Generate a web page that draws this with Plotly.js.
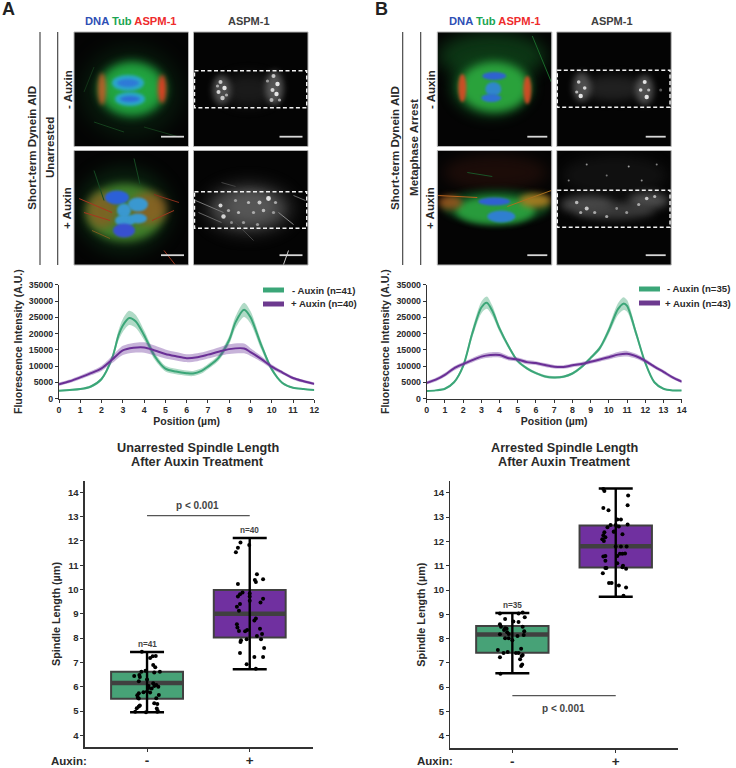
<!DOCTYPE html>
<html><head><meta charset="utf-8">
<script src="https://cdn.plot.ly/plotly-3.0.1.min.js"></script>
<style>html,body{margin:0;padding:0;background:#fff}#g{width:736px;height:768px}</style></head>
<body><div id="g"></div>
<script>
// ---------- line-profile data ----------
const posMinusA=[0,1,1.5,2,2.5,2.8,3,3.3,3.6,4,4.5,5,5.5,6,6.3,6.7,7,7.5,8,8.3,8.7,9,9.5,10,10.5,11,11.5,12];
const meanMinusA=[2400,2900,3700,6000,12500,19500,22500,24800,23800,19500,13000,9200,8300,7800,7700,8500,9800,12500,18000,23500,27300,25000,16500,9000,4800,3300,2900,2600];
const bandMinusA=[250,300,400,500,900,1600,2000,2200,2000,1500,1100,900,850,800,800,800,800,900,1300,1800,2200,1900,1300,700,350,250,200,200];
const posPlusA=[0,.5,1,1.5,2,2.5,3,3.5,4,4.5,5,5.5,6,6.5,7,7.5,8,8.7,9,9.5,10,10.5,11,11.5,12];
const meanPlusA=[4400,5300,6500,7800,9300,12000,14800,15600,15700,14800,13700,13000,12400,12700,13500,14400,15200,15400,14300,12200,9800,8000,6300,5300,4500];
const bandPlusA=[500,550,600,650,800,1100,1400,1500,1600,1500,1400,1300,1200,1200,1200,1300,1500,1500,1200,900,700,550,500,450,400];
const posMinusB=[0,.5,1,1.5,2,2.5,3,3.3,3.6,4,4.5,5,5.5,6,6.5,7,7.5,8,8.5,9,9.5,10,10.5,10.8,11,11.5,12,12.5,13,13.5,14];
const meanMinusB=[2300,2500,3000,5000,10000,20000,28000,29500,27000,21500,16000,11500,9300,7800,6800,6500,6700,7700,9700,12500,15500,21000,27500,29200,28500,20000,11000,5000,3000,2500,2500];
const bandMinusB=[200,200,300,400,700,1300,1800,1900,1600,1000,700,500,450,400,400,400,400,400,450,500,700,1200,1800,2000,1800,1100,600,350,250,200,200];
const posPlusB=[0,.5,1,1.5,2,2.5,3,3.5,4,4.5,5,5.5,6,6.5,7,7.5,8,8.5,9,9.5,10,10.5,11,11.5,12,12.5,13,13.5,14];
const meanPlusB=[4800,5800,7300,9300,10600,11800,12900,13400,13400,12400,12000,11200,10900,10300,9800,9700,10200,10600,11300,12000,12700,13500,13800,13000,11600,9800,8200,6500,5200];
const bandPlusB=[500,550,600,650,650,700,750,800,800,700,650,650,600,600,550,550,550,600,600,650,700,800,850,750,650,600,550,500,500];

// ---------- box statistics: [q1, median, q3, min, max] ----------
const boxMinusA=[5.5,6.15,6.62,4.95,7.43];
const boxPlusA=[8.02,9.0,9.98,6.72,12.12];
const boxMinusB=[7.42,8.17,8.52,6.57,9.05];
const boxPlusB=[10.93,11.8,12.66,9.72,14.18];

// ---------- jittered observations ----------
const jitMinusAx=[-.05,.03,.055,.085,.06,.08,-.015,.07,.125,-.055,-.075,-.125,-.07,0,-.08,.06,.09,.11,.07,.015,0,-.08,-.095,-.035,.03,-.09,-.08,.09,.115,.07,.10,-.07,-.08,-.10,.095,.105,-.115,-.01,.10,.045,.015];
const jitMinusAy=[7.44,7.18,7.25,7.26,6.89,6.80,6.66,6.58,6.61,6.61,6.48,6.44,6.40,6.30,6.22,6.14,6.07,6.0,6.03,5.95,5.80,5.73,5.65,5.77,5.76,5.55,5.51,5.52,5.66,5.32,5.29,5.23,5.18,5.11,5.10,5.0,4.97,4.95,4.97,5.93,6.03];
const jitPlusAx=[-.09,-.115,-.135,-.005,.07,.05,.06,.13,-.115,-.07,-.095,-.115,0,0,.13,.105,-.095,-.125,-.105,.06,.045,-.125,-.12,-.105,-.045,-.025,.10,.12,.07,.11,-.03,-.085,-.09,.14,-.095,.045,.13,-.03,.06,0];
const jitPlusAy=[11.93,11.72,11.53,11.83,10.63,10.39,10.31,10.42,10.23,9.88,9.80,9.71,9.71,9.54,9.62,9.46,9.40,9.29,9.13,8.81,8.72,8.57,8.44,8.29,8.28,8.33,8.38,8.17,8.09,7.95,7.95,7.91,7.84,7.59,7.39,7.22,7.22,6.92,6.74,9.84];
const jitMinusBx=[-.12,.06,.10,.12,-.07,.01,.06,-.12,-.11,-.07,-.055,.10,.115,-.12,-.05,-.035,.11,.05,-.07,-.035,0,.085,-.14,-.085,-.045,.035,.06,.10,.09,-.12,.075,.095,.085,-.115,-.08];
const jitMinusBy=[9.03,9.03,9.07,8.88,8.81,8.70,8.68,8.59,8.49,8.42,8.40,8.49,8.30,8.18,8.26,8.19,8.15,8.11,8.01,8.01,7.93,7.58,7.53,7.41,7.45,7.41,7.41,7.32,7.28,7.23,7.15,6.93,6.87,6.55,8.35];
const jitPlusBx=[-.12,-.11,.12,.115,-.12,-.07,.015,.05,-.05,-.08,0,.115,-.11,-.015,.065,-.13,-.10,-.12,.05,.105,0,-.12,-.10,-.10,.015,.065,.09,.015,.065,.10,-.09,-.10,-.125,-.065,-.04,.03,.10,.075,.07,.04,-.115,.03,-.02];
const jitPlusBy=[14.16,14.08,13.89,13.49,13.38,13.29,12.90,12.90,12.68,12.59,12.68,12.70,12.38,12.41,12.30,12.09,12.17,12.26,11.79,11.79,11.79,11.38,11.40,11.21,11.40,11.49,11.50,11.10,10.94,10.88,10.91,10.91,10.69,10.29,10.29,10.19,10.10,9.76,11.0,11.49,12.02,12.62,12.4];

// ---------- text ----------
const sideLabels=["Short-term Dynein AID","Unarrested","Metaphase Arrest","- Auxin","+ Auxin"];
const legendA=["- Auxin (n=41)","+ Auxin (n=40)"], legendB=["- Auxin (n=35)","+ Auxin (n=43)"];
const GREEN='#3ba678', PURPLE='#6d3a8f', BOXG='#47a277', BOXP='#7030a0', EDGE='#404040', INK='#2a2a2a';
const FONT='"Liberation Sans", Arial, sans-serif';
const W=736,H=768, px=x=>x/W, py=y=>1-y/H;
const BOLD=s=>'<b>'+s+'</b>';

let shapes=[],ann=[],traces=[],blurMap={};
const text=(x,y,t,size,color,extra)=>ann.push(Object.assign({xref:'paper',yref:'paper',x:px(x),y:py(y),text:t,showarrow:false,xanchor:'center',yanchor:'middle',font:{family:FONT,size:size,color:color||INK}},extra||{}));
const rect=(x0,y0,x1,y1,fill,line)=>shapes.push({type:'rect',xref:'paper',yref:'paper',x0:px(x0),x1:px(x1),y0:py(y0),y1:py(y1),fillcolor:fill,line:line||{width:0}});
const seg=(x0,y0,x1,y1,color,w,dash)=>shapes.push({type:'line',xref:'paper',yref:'paper',x0:px(x0),x1:px(x1),y0:py(y0),y1:py(y1),line:{color:color,width:w,dash:dash||'solid'}});
function blob(ox,oy,b){const [cx,cy,rx,ry,c,op,bl]=b;
  blurMap[shapes.length]=bl!==undefined?bl:Math.min(rx,ry)*.3;
  shapes.push({type:'circle',xref:'paper',yref:'paper',x0:px(ox+cx-rx),x1:px(ox+cx+rx),y0:py(oy+cy-ry),y1:py(oy+cy+ry),fillcolor:c,opacity:op,line:{width:0}});}
// speckle: [x, y, r, grey]
const dots=(arr)=>arr.map(d=>[d[0],d[1],d[2],d[2],d[3],.85,.7]);

// ---------- micrograph panels (illustrative only, not chart data) ----------
const panelSize=114.5;
const panels=[
 {o:[74,32],bar:[87,110],blobs:[[57,60,50,46,'#0c3316',.45,10],[58,57,34,28,'#1f9a3a',.95,5],[58,57,26,21,'#28b84a',.5,5],[28,57,4,16,'#d85a28',.8,2],[88,57,4,14,'#ee3a22',.9,2],[54,51,16,8,'#2aa6c8',1,1.5],[56,67,15,7,'#2aa6c8',1,1.5],[54,51,11,4,'#2f6fdc',.8,1.5],[56,67,10,3,'#2f5fdc',.8,1.5]],fib:[[20,90,50,100,'#143f1c'],[70,95,105,105,'#143a1a'],[10,60,20,35,'#123418']]},
 {o:[193.5,32],bar:[86,109],blobs:[[55,58,28,16,'#242424',.7,6],[28,58,9,15,'#7a7a7a',.6,3],[81,56,9,17,'#848484',.6,3]].concat(dots([[27,50,2,'#ddd'],[31,56,2.2,'#fff'],[25,60,2,'#eee'],[29,66,2.2,'#ddd'],[33,63,1.6,'#bbb'],[24,54,1.6,'#bbb'],[80,44,2,'#ddd'],[84,52,2.2,'#fff'],[79,58,2,'#eee'],[83,62,2.2,'#fff'],[78,68,2,'#ccc'],[74,49,1.6,'#aaa'],[86,68,1.6,'#bbb']])),box:[1,38.7,113.2,75.7],fib:[]},
 {o:[74,150.5],bar:[87,110],blobs:[[50,60,48,44,'#0d3316',.55,8],[51,62,39,29,'#4a9030',.85,4],[28,60,15,18,'#a8501f',.55,4],[75,58,18,16,'#b0521f',.6,4],[43,47,12,7,'#2c60d8',1,1],[64,54,10,7,'#3a98d0',1,1],[50,60,7,7,'#3a98d0',1,1],[51,70,10,6,'#3a98d0',1,1],[64,68,9,5,'#3a98d0',1,1],[50,80,11,7,'#3850d0',1,1]],
  fib:[[5,48,38,62,'#a8361f'],[10,62,36,70,'#a8361f'],[80,44,105,52,'#8a2f1c'],[78,70,100,60,'#a0381f'],[20,20,30,50,'#164a22'],[60,8,66,34,'#164a22'],[90,100,101,114,'#a0381f'],[18,80,36,88,'#7a5a1f']]},
 {o:[193.5,150.5],bar:[86,109],blobs:[[55,58,46,28,'#2e2e2e',.75,7],[55,58,36,20,'#5c5c5c',.6,5],[58,56,22,14,'#6e6e6e',.4,4]].concat(dots([[27,55,2,'#eee'],[30,66,2.2,'#eee'],[35,60,1.6,'#bbb'],[75,48,2.4,'#fff'],[66,52,2,'#ddd'],[45,62,1.6,'#ccc'],[55,52,1.6,'#ccc'],[60,62,1.6,'#bbb'],[70,60,1.8,'#ccc'],[82,52,1.6,'#bbb'],[42,50,1.6,'#aaa'],[50,72,1.6,'#aaa'],[64,74,1.6,'#aaa'],[80,62,1.6,'#aaa'],[38,72,1.5,'#999']])),box:[1,41.2,113.2,77.8],
  fib:[[2,50,30,62,'#777'],[5,62,28,72,'#666'],[85,62,100,74,'#888'],[95,100,90,114,'#ccc'],[28,32,42,36,'#444'],[100,45,112,50,'#666'],[40,70,60,90,'#444']]},
 {o:[437.3,32],bar:[90,110],blobs:[[55,24,54,24,'#11501e',.65,8],[54,55,42,31,'#0f4a1c',.65,6],[57,55,35,25,'#2ca83e',.95,4],[25,56,4,14,'#dc4a25',.9,1.8],[90,58,4,14,'#dc4a25',.9,1.8],[57,44,12,4,'#2f62cf',1,1],[56,57,8,7,'#2f86cb',1,1],[54,66,10,4,'#2f6fd2',1,1]],fib:[[95,4,114,50,'#1a6a2a']]},
 {o:[556.7,32],bar:[89,109],blobs:[[56,56,32,13,'#2c2c2c',.7,5],[25,55,9,15,'#787878',.6,3],[88,58,9,15,'#7c7c7c',.6,3]].concat(dots([[22,50,1.8,'#ddd'],[24,64,2.2,'#fff'],[28,56,1.8,'#eee'],[20,60,1.6,'#ccc'],[88,50,2,'#fff'],[90,65,2.2,'#fff'],[84,58,1.8,'#eee'],[92,58,1.6,'#ccc'],[104,58,1.5,'#666']])),box:[.6,38.3,113.3,75.3],fib:[]},
 {o:[437.3,150.5],bar:[90,110],blobs:[[58,22,52,18,'#2c120c',.6,7],[59,56,54,17,'#0f4a1e',.85,3],[58,60,40,14,'#2aa03e',.95,3],[98,50,16,7,'#b88422',.85,3],[13,52,12,7,'#b05c20',.75,3],[57,51,16,4,'#2f60d2',1,1],[64,66,14,6,'#2f7fd0',1,1]],fib:[[0,45,40,47,'#b8641f'],[70,56,114,40,'#a8701f'],[30,22,55,26,'#1a5528']]},
 {o:[556.7,150.5],bar:[89,109],blobs:[[58,25,52,20,'#141414',.8,6],[30,54,26,9,'#5e5e5e',.75,4],[92,50,20,8,'#666',.75,4],[58,60,40,9,'#454545',.8,4]].concat(dots([[20,52,1.8,'#ccc'],[30,58,2,'#ddd'],[24,62,1.6,'#bbb'],[38,62,1.6,'#bbb'],[90,48,1.8,'#ddd'],[98,46,1.6,'#ccc'],[82,54,1.6,'#bbb'],[70,62,1.5,'#aaa'],[50,66,1.6,'#bbb'],[60,58,1.4,'#999'],[30,14,1,'#aaa'],[72,16,1,'#bbb'],[85,30,1,'#aaa'],[12,30,1,'#999'],[50,25,1,'#888'],[100,14,1,'#999']])),box:[.6,39.8,113.3,76.8],fib:[]}
];
panels.forEach(p=>{const [ox,oy]=p.o;
  rect(ox,oy,ox+panelSize,oy+panelSize,'#040404');
  p.blobs.forEach(b=>blob(ox,oy,b));
  p.fib.forEach(f=>{blurMap[shapes.length]=.6;seg(ox+f[0],oy+f[1],ox+f[2],oy+f[3],f[4],1);});
});
// white masks so blur stays inside panels
[[60,308.5],[423,671.8]].forEach(([a,b])=>{const x0=a===60?74:437.3;
  rect(a,0,b+20,32,'#fff'); rect(a,265,b+20,283,'#fff'); rect(a,32,x0,265,'#fff'); rect(b,32,b+20,265,'#fff');
  rect(x0+panelSize,32,x0+panelSize+5,265,'#fff'); rect(x0,146.5,b,150.5,'#fff');
});
panels.forEach(p=>{const [ox,oy]=p.o;
  rect(ox,oy,ox+panelSize,oy+panelSize,'rgba(0,0,0,0)',{color:'#b5b5b5',width:1});
  seg(ox+p.bar[0],oy+104.7,ox+p.bar[1],oy+104.7,'#d8d8d8',1.8);
  if(p.box){const b=p.box;shapes.push({type:'rect',xref:'paper',yref:'paper',x0:px(ox+b[0]),x1:px(ox+b[2]),y0:py(oy+b[1]),y1:py(oy+b[3]),line:{color:'#f2f2f2',width:1.4,dash:'4px,2.5px'},fillcolor:'rgba(0,0,0,0)'});}
});

// ---------- separators + labels ----------
[40,57.7,402.7,420.7].forEach(x=>seg(x,32,x,265,'#3a3a3a',1.1));
text(8,9,BOLD('A'),18,'#222'); text(381,9,BOLD('B'),18,'#222');
const header=`<b><span style="color:#2e4fb5">DNA</span> <span style="color:#1ba552">Tub</span> <span style="color:#ee2c2c">ASPM-1</span></b>`;
text(131,21,header,11.2); text(249,21,BOLD('ASPM-1'),11,'#404040');
text(494.7,21,header,11.2); text(612,21,BOLD('ASPM-1'),11,'#404040');
const rot={textangle:-90};
text(30.7,148,BOLD(sideLabels[0]),11.6,INK,rot); text(49,148,BOLD(sideLabels[1]),11.6,INK,rot);
text(67,90,BOLD(sideLabels[3]),11.6,INK,rot); text(67,208,BOLD(sideLabels[4]),11.6,INK,rot);
text(394,148,BOLD(sideLabels[0]),11.6,INK,rot); text(413,148,BOLD(sideLabels[2]),11.6,INK,rot);
text(430,90,BOLD(sideLabels[3]),11.6,INK,rot); text(430,208,BOLD(sideLabels[4]),11.6,INK,rot);

// ---------- legends ----------
function legend(x0,x1,tx,ys,labels){
  seg(x0,ys[0],x1,ys[0],GREEN,5); seg(x0,ys[1],x1,ys[1],PURPLE,5);
  text(tx[0],ys[0],BOLD(labels[0]),9.6,INK,{xanchor:'left'}); text(tx[1],ys[1],BOLD(labels[1]),9.6,INK,{xanchor:'left'});
}
legend(263,284,[290,288.5],[290,304],legendA);
legend(639,660,[665,663],[289,303],legendB);

// ---------- axes ----------
const L={width:W,height:H,margin:{l:0,r:0,t:0,b:0},paper_bgcolor:'#fff',plot_bgcolor:'rgba(0,0,0,0)',showlegend:false,font:{family:FONT,color:INK},hovermode:false};
const dom=(a,b,S)=>[a/S,b/S];
const domY=(top,bot)=>[1-bot/H,1-top/H];
const tickF=s=>({family:FONT,size:s,color:INK,weight:700});
function lineAxes(xa,ya,x0,x1,xmax){
  L[xa]={domain:dom(x0,x1,W),range:[0,xmax],dtick:1,tick0:0,ticks:'outside',ticklen:3,tickwidth:1,tickcolor:'#333',showline:true,linecolor:'#333',linewidth:1,showgrid:false,zeroline:false,tickfont:tickF(8.8),anchor:ya.replace('axis',''),
    title:{text:BOLD('Position (µm)'),font:{family:FONT,size:10.5,color:INK},standoff:3}};
  L[ya]={domain:domY(284.8,398.5),range:[0,35000],dtick:5000,tickformat:'d',ticks:'outside',ticklen:3,tickwidth:1,tickcolor:'#333',showline:true,linecolor:'#333',linewidth:1,showgrid:false,zeroline:false,tickfont:tickF(8.8),anchor:xa.replace('axis',''),
    title:{text:BOLD('Fluorescence Intensity (A.U.)'),font:{family:FONT,size:10.5,color:INK},standoff:4}};
}
lineAxes('xaxis','yaxis',59,314.3,12);
lineAxes('xaxis2','yaxis2',426.7,681.7,14);
function boxAxes(xa,ya,x0,x1,xl,xr,top,bot,rl,rh){
  L[xa]={domain:dom(x0,x1,W),range:[xl,xr],tickvals:[0,1],ticktext:['-','+'],ticks:'outside',ticklen:3,tickwidth:1,tickcolor:'#333',showline:true,linecolor:'#333',linewidth:1.3,showgrid:false,zeroline:false,tickfont:{family:FONT,size:13.5,color:INK,weight:700},ticklabelstandoff:-3,anchor:ya.replace('axis','')};
  L[ya]={domain:domY(top,bot),range:[rl,rh],tick0:4,dtick:1,ticks:'outside',ticklen:3,tickwidth:1,tickcolor:'#333',showline:true,linecolor:'#333',linewidth:1.3,showgrid:false,zeroline:false,tickfont:tickF(9.5),anchor:xa.replace('axis',''),
    title:{text:BOLD('Spindle Length (µm)'),font:{family:FONT,size:10.8,color:INK},standoff:5}};
}
boxAxes('xaxis3','yaxis3',84.7,313.3,-0.607,1.619,480.7,747.3,3.506,14.477);
boxAxes('xaxis4','yaxis4',450.3,678.3,-0.6,1.605,481,748.3,3.48,14.49);

// ---------- line traces ----------
function profile(x,m,b,color,fillc,xa,ya){
  const lo=m.map((v,i)=>v-b[i]),hi=m.map((v,i)=>v+b[i]);
  const common={x:x,mode:'lines',xaxis:xa,yaxis:ya,hoverinfo:'skip'};
  traces.push(Object.assign({},common,{y:lo,line:{width:0,shape:'spline',smoothing:.8}}));
  traces.push(Object.assign({},common,{y:hi,line:{width:0,shape:'spline',smoothing:.8},fill:'tonexty',fillcolor:fillc}));
  traces.push(Object.assign({},common,{y:m,line:{color:color,width:2,shape:'spline',smoothing:.8}}));
}
const gF='rgba(66,166,120,.42)',pF='rgba(115,65,160,.40)';
profile(posMinusA,meanMinusA,bandMinusA,GREEN,gF,'x','y');
profile(posPlusA,meanPlusA,bandPlusA,'#6a2f96',pF,'x','y');
profile(posMinusB,meanMinusB,bandMinusB,GREEN,gF,'x2','y2');
profile(posPlusB,meanPlusB,bandPlusB,'#6a2f96',pF,'x2','y2');

// ---------- box traces ----------
function boxGroup(pos,s,fill,jx,jy,xa,ya){
  traces.push({type:'box',x:[pos],q1:[s[0]],median:[s[1]],q3:[s[2]],lowerfence:[s[0]],upperfence:[s[2]],width:.7,fillcolor:fill,line:{color:EDGE,width:2},whiskerwidth:0,boxpoints:false,xaxis:xa,yaxis:ya,hoverinfo:'skip'});
  traces.push({type:'scatter',x:[pos],y:[s[1]],mode:'markers',marker:{size:1,color:EDGE},error_x:{type:'constant',value:.35,thickness:4.5,width:0,color:EDGE},xaxis:xa,yaxis:ya,hoverinfo:'skip'});
  traces.push({type:'scatter',x:[pos],y:[s[1]],mode:'markers',marker:{size:1,color:'#000'},error_y:{type:'data',symmetric:false,array:[s[4]-s[1]],arrayminus:[s[1]-s[3]],thickness:2.4,width:17,color:'#000'},xaxis:xa,yaxis:ya,hoverinfo:'skip'});
  traces.push({type:'scatter',x:jx.map(v=>pos+v),y:jy,mode:'markers',marker:{size:4,color:'#000'},xaxis:xa,yaxis:ya,hoverinfo:'skip'});
}
boxGroup(0,boxMinusA,BOXG,jitMinusAx,jitMinusAy,'x3','y3');
boxGroup(1,boxPlusA,BOXP,jitPlusAx,jitPlusAy,'x3','y3');
boxGroup(0,boxMinusB,BOXG,jitMinusBx,jitMinusBy,'x4','y4');
boxGroup(1,boxPlusB,BOXP,jitPlusBx,jitPlusBy,'x4','y4');

// ---------- significance bars & notes ----------
const dt=(xr,yr,x,y,t,s)=>ann.push({xref:xr,yref:yr,x:x,y:y,text:t,showarrow:false,font:{family:FONT,size:s,color:'#444'},xanchor:'center',yanchor:'middle'});
[['x3','y3',13.04],['x4','y4',5.65]].forEach(a=>shapes.push({type:'line',xref:a[0],yref:a[1],x0:0,x1:1,y0:a[2],y1:a[2],line:{color:'#555',width:1.4}}));
dt('x3','y3',.49,13.46,BOLD('p &lt; 0.001'),10);
dt('x4','y4',.49,5.14,BOLD('p &lt; 0.001'),10);
dt('x3','y3',0,7.75,BOLD('n=41'),8.2); dt('x3','y3',1,12.44,BOLD('n=40'),8.2);
dt('x4','y4',0,9.38,BOLD('n=35'),8.2); dt('x4','y4',1,14.5,BOLD('n=43'),8.2);

text(198,448,BOLD('Unarrested Spindle Length'),12.7,INK);
text(198,462,BOLD('After Auxin Treatment'),12.7,INK);
text(564,448,BOLD('Arrested Spindle Length'),12.7,INK);
text(564,462,BOLD('After Auxin Treatment'),12.7,INK);
text(68.5,761,BOLD('Auxin:'),11.5,INK);
text(434.5,761,BOLD('Auxin:'),11.5,INK);

L.shapes=shapes; L.annotations=ann;
Plotly.newPlot('g',traces,L,{displayModeBar:false,staticPlot:true}).then(()=>{
  document.querySelectorAll('.shapelayer path').forEach(el=>{
    const i=el.getAttribute('data-index'); if(i!==null&&blurMap[i]) el.style.filter='blur('+blurMap[i]+'px)';
  });
});
</script></body></html>
